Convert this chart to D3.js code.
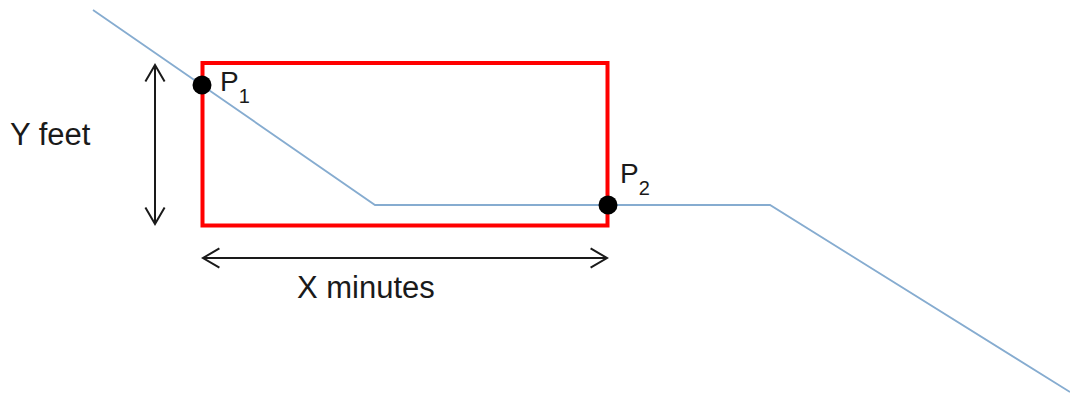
<!DOCTYPE html>
<html>
<head>
<meta charset="utf-8">
<script src="https://cdn.jsdelivr.net/npm/d3@7"></script>
<style>
  body { margin: 0; background: #fff; }
  text { font-family: "Liberation Sans", Arial, sans-serif; fill: #1a1a1a; }
</style>
</head>
<body>
<script>
// path of the profile line (drawing units)
var routeX = [93, 375, 770, 1070];
var routeY = [10, 205, 205, 392];

// the two marked points
var pointNames = ["P", "P"];
var pointSubs = ["1", "2"];
var pointX = [202, 608];
var pointY = [85, 205];

// window box corners
var boxX = [202.5, 607.5];
var boxY = [63, 225.5];

// dimension arrows: [from, to] along one axis, fixed on the other
var xArrow = {from: 203, to: 607, at: 258, label: "X minutes"};
var yArrow = {from: 65, to: 224, at: 155, label: "Y feet"};

var width = 1070, height = 399;

var x = d3.scaleLinear().domain([0, 1070]).range([0, width]);
var y = d3.scaleLinear().domain([0, 399]).range([0, height]);

var svg = d3.select("body").append("svg")
            .attr("width", width)
            .attr("height", height);

var routeData = routeX.map(function(d, i) { return [d, routeY[i]]; });

var line = d3.line()
             .x(function(d) { return x(d[0]); })
             .y(function(d) { return y(d[1]); });

// red box
svg.append("rect")
   .attr("x", x(boxX[0]))
   .attr("y", y(boxY[0]))
   .attr("width", x(boxX[1]) - x(boxX[0]))
   .attr("height", y(boxY[1]) - y(boxY[0]))
   .attr("fill", "none")
   .attr("stroke", "#ff0000")
   .attr("stroke-width", 4);

// blue profile line
svg.append("path")
   .attr("d", line(routeData))
   .attr("fill", "none")
   .attr("stroke", "#86acd0")
   .attr("stroke-width", 1.8);

// arrow heads drawn as open V's
function arrowHead(tx, ty, dx, dy) {
  // tip at (tx,ty), arms going back along direction (dx,dy)
  var len = 19, spread = 0.53;
  var a = Math.atan2(dy, dx);
  var p1 = [tx + len * Math.cos(a + spread), ty + len * Math.sin(a + spread)];
  var p2 = [tx + len * Math.cos(a - spread), ty + len * Math.sin(a - spread)];
  return "M" + p1 + "L" + tx + "," + ty + "L" + p2;
}

var arrows = svg.append("g")
                .attr("fill", "none")
                .attr("stroke", "#1a1a1a")
                .attr("stroke-width", 2);

// horizontal
arrows.append("line")
      .attr("x1", x(xArrow.from)).attr("x2", x(xArrow.to))
      .attr("y1", y(xArrow.at)).attr("y2", y(xArrow.at));
arrows.append("path").attr("d", arrowHead(x(xArrow.from), y(xArrow.at), 1, 0));
arrows.append("path").attr("d", arrowHead(x(xArrow.to), y(xArrow.at), -1, 0));

// vertical
arrows.append("line")
      .attr("x1", x(yArrow.at)).attr("x2", x(yArrow.at))
      .attr("y1", y(yArrow.from)).attr("y2", y(yArrow.to));
arrows.append("path").attr("d", arrowHead(x(yArrow.at), y(yArrow.from), 0, 1));
arrows.append("path").attr("d", arrowHead(x(yArrow.at), y(yArrow.to), 0, -1));

// dimension labels
svg.append("text")
   .attr("x", 10).attr("y", 145)
   .attr("font-size", 31)
   .text(yArrow.label);

svg.append("text")
   .attr("x", 297).attr("y", 298)
   .attr("font-size", 31)
   .text(xArrow.label);

// points
svg.selectAll("circle.pt")
   .data(pointX)
   .enter().append("circle")
   .attr("class", "pt")
   .attr("cx", function(d) { return x(d); })
   .attr("cy", function(d, i) { return y(pointY[i]); })
   .attr("r", 9.5)
   .attr("fill", "#000");

var labelOffset = [[18, 6], [12, -22]];

var labels = svg.selectAll("text.pt")
   .data(pointX)
   .enter().append("text")
   .attr("class", "pt")
   .attr("x", function(d, i) { return x(d) + labelOffset[i][0]; })
   .attr("y", function(d, i) { return y(pointY[i]) + labelOffset[i][1]; })
   .attr("font-size", 28);

labels.append("tspan").text(function(d, i) { return pointNames[i]; });
labels.append("tspan")
      .attr("font-size", 20)
      .attr("dy", 12)
      .text(function(d, i) { return pointSubs[i]; });
</script>
</body>
</html>
